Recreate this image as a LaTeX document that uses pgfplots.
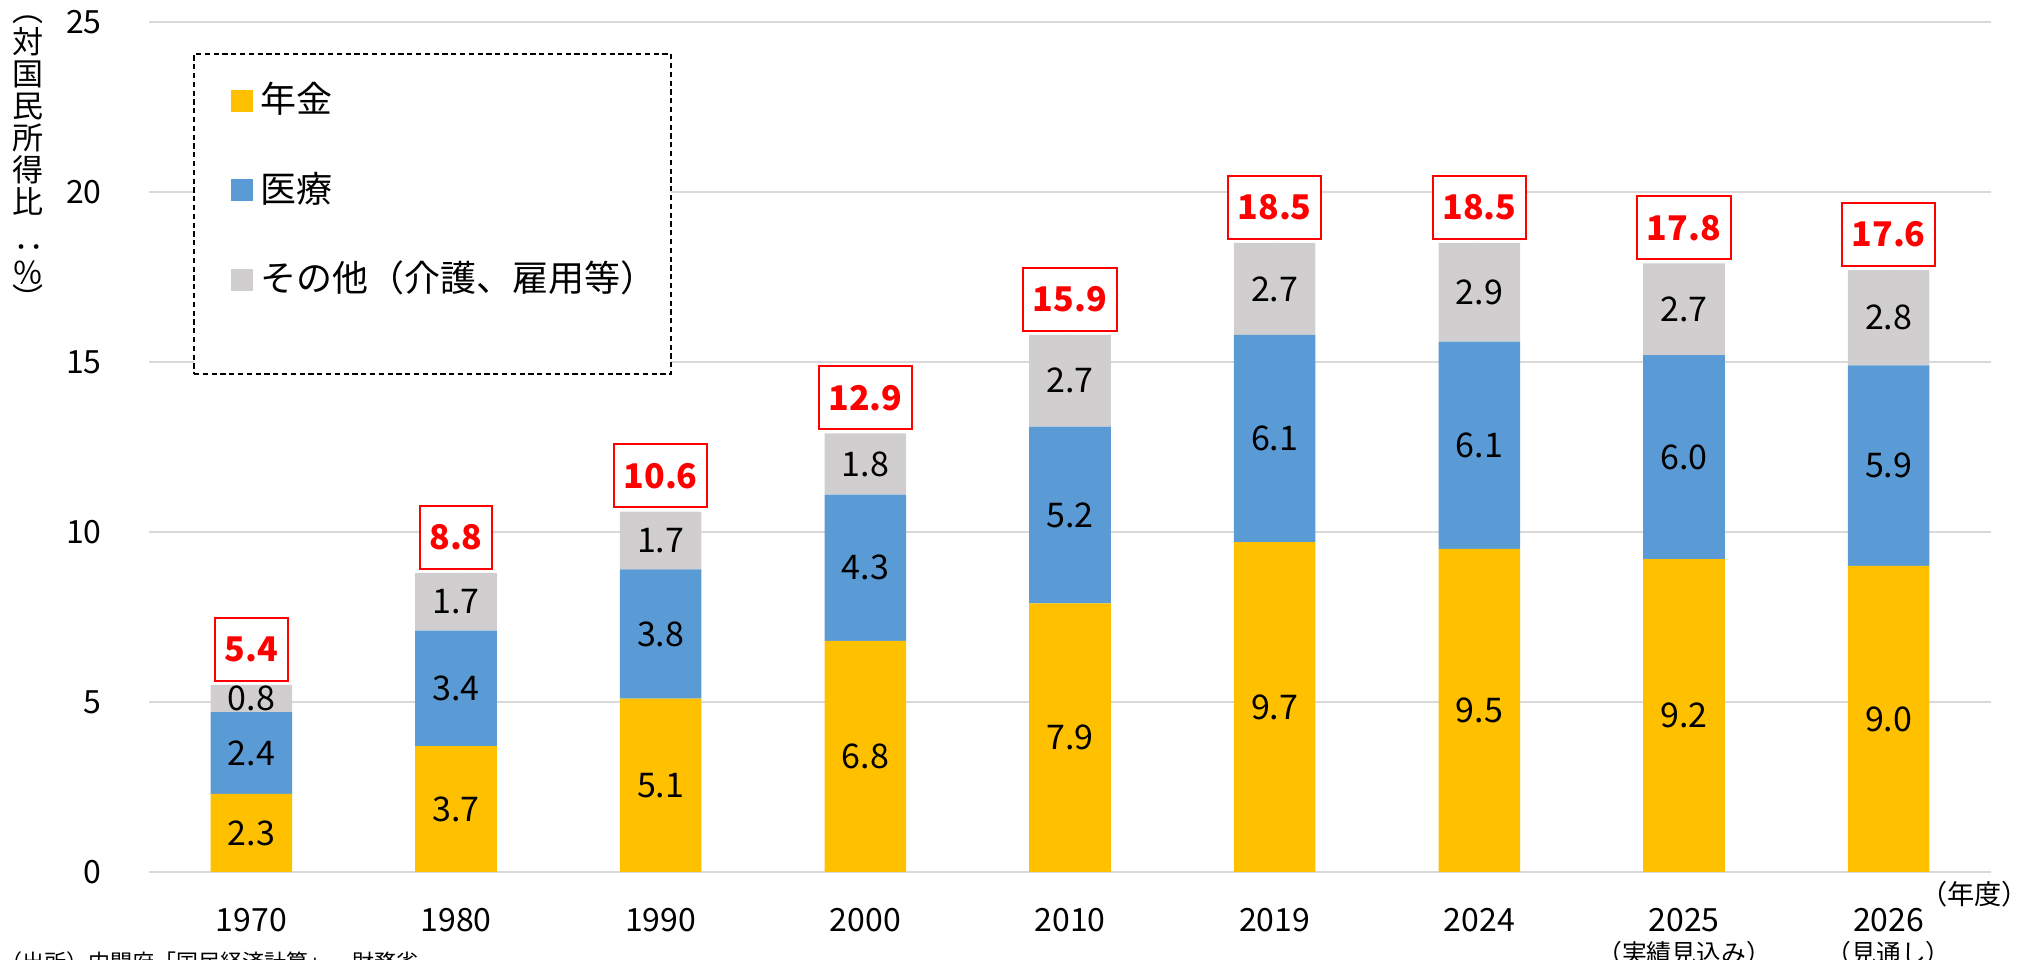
\documentclass[border=0pt]{standalone}
\usepackage{fontspec}
\setmainfont{Noto Sans CJK JP}
\usepackage{graphicx}
\usepackage{pgfplots}
\pgfplotsset{compat=1.18}
\usepackage{pgfplotstable}

\definecolor{pension}{HTML}{FFC000}
\definecolor{medical}{HTML}{5B9BD5}
\definecolor{other}{HTML}{D0CECE}
\definecolor{gridc}{HTML}{D9D9D9}

\pgfplotstableread{
x a b c tot
0 2.3 2.4 0.8 5.4
1 3.7 3.4 1.7 8.8
2 5.1 3.8 1.7 10.6
3 6.8 4.3 1.8 12.9
4 7.9 5.2 2.7 15.9
5 9.7 6.1 2.7 18.5
6 9.5 6.1 2.9 18.5
7 9.2 6.0 2.7 17.8
8 9.0 5.9 2.8 17.6
}\datatable

\pgfplotsset{
  common/.style={
    width=460.5pt, height=212.5pt, scale only axis,
    xmin=-0.5, xmax=8.5, ymin=0, ymax=25,
    at={(0,0)}, anchor=south west,
    /pgf/number format/assume math mode=true,
  },
  seglabel/.style={
    only marks, mark=*, mark size=0pt, mark options={draw=none,fill=none},
    point meta=explicit,
    nodes near coords={\pgfmathprintnumber[fixed,fixed zerofill,precision=1]{\pgfplotspointmeta}},
    every node near coord/.style={anchor=center, text=black, font=\fontsize{8.5}{10}\selectfont},
  },
}

\begin{document}
\begin{tikzpicture}
\begin{axis}[common,
  ybar stacked, bar width=20.4pt,
  ytick={0,5,...,25},
  ymajorgrids, grid style={gridc, line width=0.6pt},
  axis line style={draw=none}, major tick length=0pt,
  xtick={0,...,8},
  xticklabels={1970,1980,1990,2000,2010,2019,2024,{2025\\{\fontsize{6.2}{7}\selectfont（実績見込み）}},{2026\\{\fontsize{6.2}{7}\selectfont（見通し）}}},
  xticklabel style={align=center, font=\fontsize{8}{7.75}\selectfont, yshift=-5.5pt},
  yticklabel style={font=\fontsize{8}{10}\selectfont, xshift=-8.3pt},
  legend cell align=left,
  legend image code/.code={\fill[#1] (0pt,-2.75pt) rectangle (5.5pt,2.75pt);},
  legend style={at={(0.0239,0.9635)}, anchor=north west,
    draw=black, line width=0.45pt, dash pattern=on 1.3pt off 0.9pt, fill=white,
    font=\fontsize{9}{11}\selectfont, row sep=9.25pt, inner xsep=9.25pt, inner ysep=5.15pt},
]
\addplot[fill=pension, draw=none] table[x=x, y=a] \datatable;
\addlegendentry{年金}
\addplot[fill=medical, draw=none] table[x=x, y=b] \datatable;
\addlegendentry{医療}
\addplot[fill=other, draw=none] table[x=x, y=c] \datatable;
\addlegendentry{その他（介護、雇用等）\hspace*{-7.75pt}}
\addlegendimage{empty legend}
\addlegendentry[inner ysep=0.6pt]{}
\end{axis}

\begin{axis}[common, hide axis]
\addplot[seglabel] table[x=x, y expr=\thisrow{a}/2, meta=a] \datatable;
\addplot[seglabel] table[x=x, y expr=\thisrow{a}+\thisrow{b}/2, meta=b] \datatable;
\addplot[seglabel] table[x=x, y expr=\thisrow{a}+\thisrow{b}+\thisrow{c}/2, meta=c] \datatable;
\addplot[only marks, mark=*, mark size=0pt, mark options={draw=none,fill=none},
  point meta=explicit,
  nodes near coords={\pgfmathprintnumber[fixed,fixed zerofill,precision=1]{\pgfplotspointmeta}},
  every node near coord/.style={anchor=south, yshift=0.8pt, draw=red, line width=0.5pt,
    fill=white, text=red, font=\bfseries\fontsize{8.5}{10}\selectfont,
    inner xsep=2.4pt, minimum height=15.75pt}]
  table[x=x, y expr=\thisrow{a}+\thisrow{b}+\thisrow{c}, meta=tot] \datatable;
\end{axis}

\node[anchor=north, align=center, font=\fontsize{7.75}{8}\selectfont, inner sep=0pt]
  at (-30.25pt,214.25pt) {︵\\対\\国\\民\\所\\得\\比\\[3pt]\rotatebox[origin=c]{-90}{：}\\[-1.25pt]％\\[-1.5pt]︶};
\node[anchor=east, inner sep=0pt, font=\fontsize{6.8}{8}\selectfont] at (470.2pt,-5.5pt) {（年度）};
\node[anchor=north west, inner sep=0pt, font=\fontsize{5.5}{7}\selectfont] at (-37.25pt,-19.75pt) {（出所）内閣府「国民経済計算」、財務省};

\pgfresetboundingbox
\useasboundingbox (-37.25pt,-22pt) rectangle (470.25pt,218pt);
\end{tikzpicture}
\end{document}
